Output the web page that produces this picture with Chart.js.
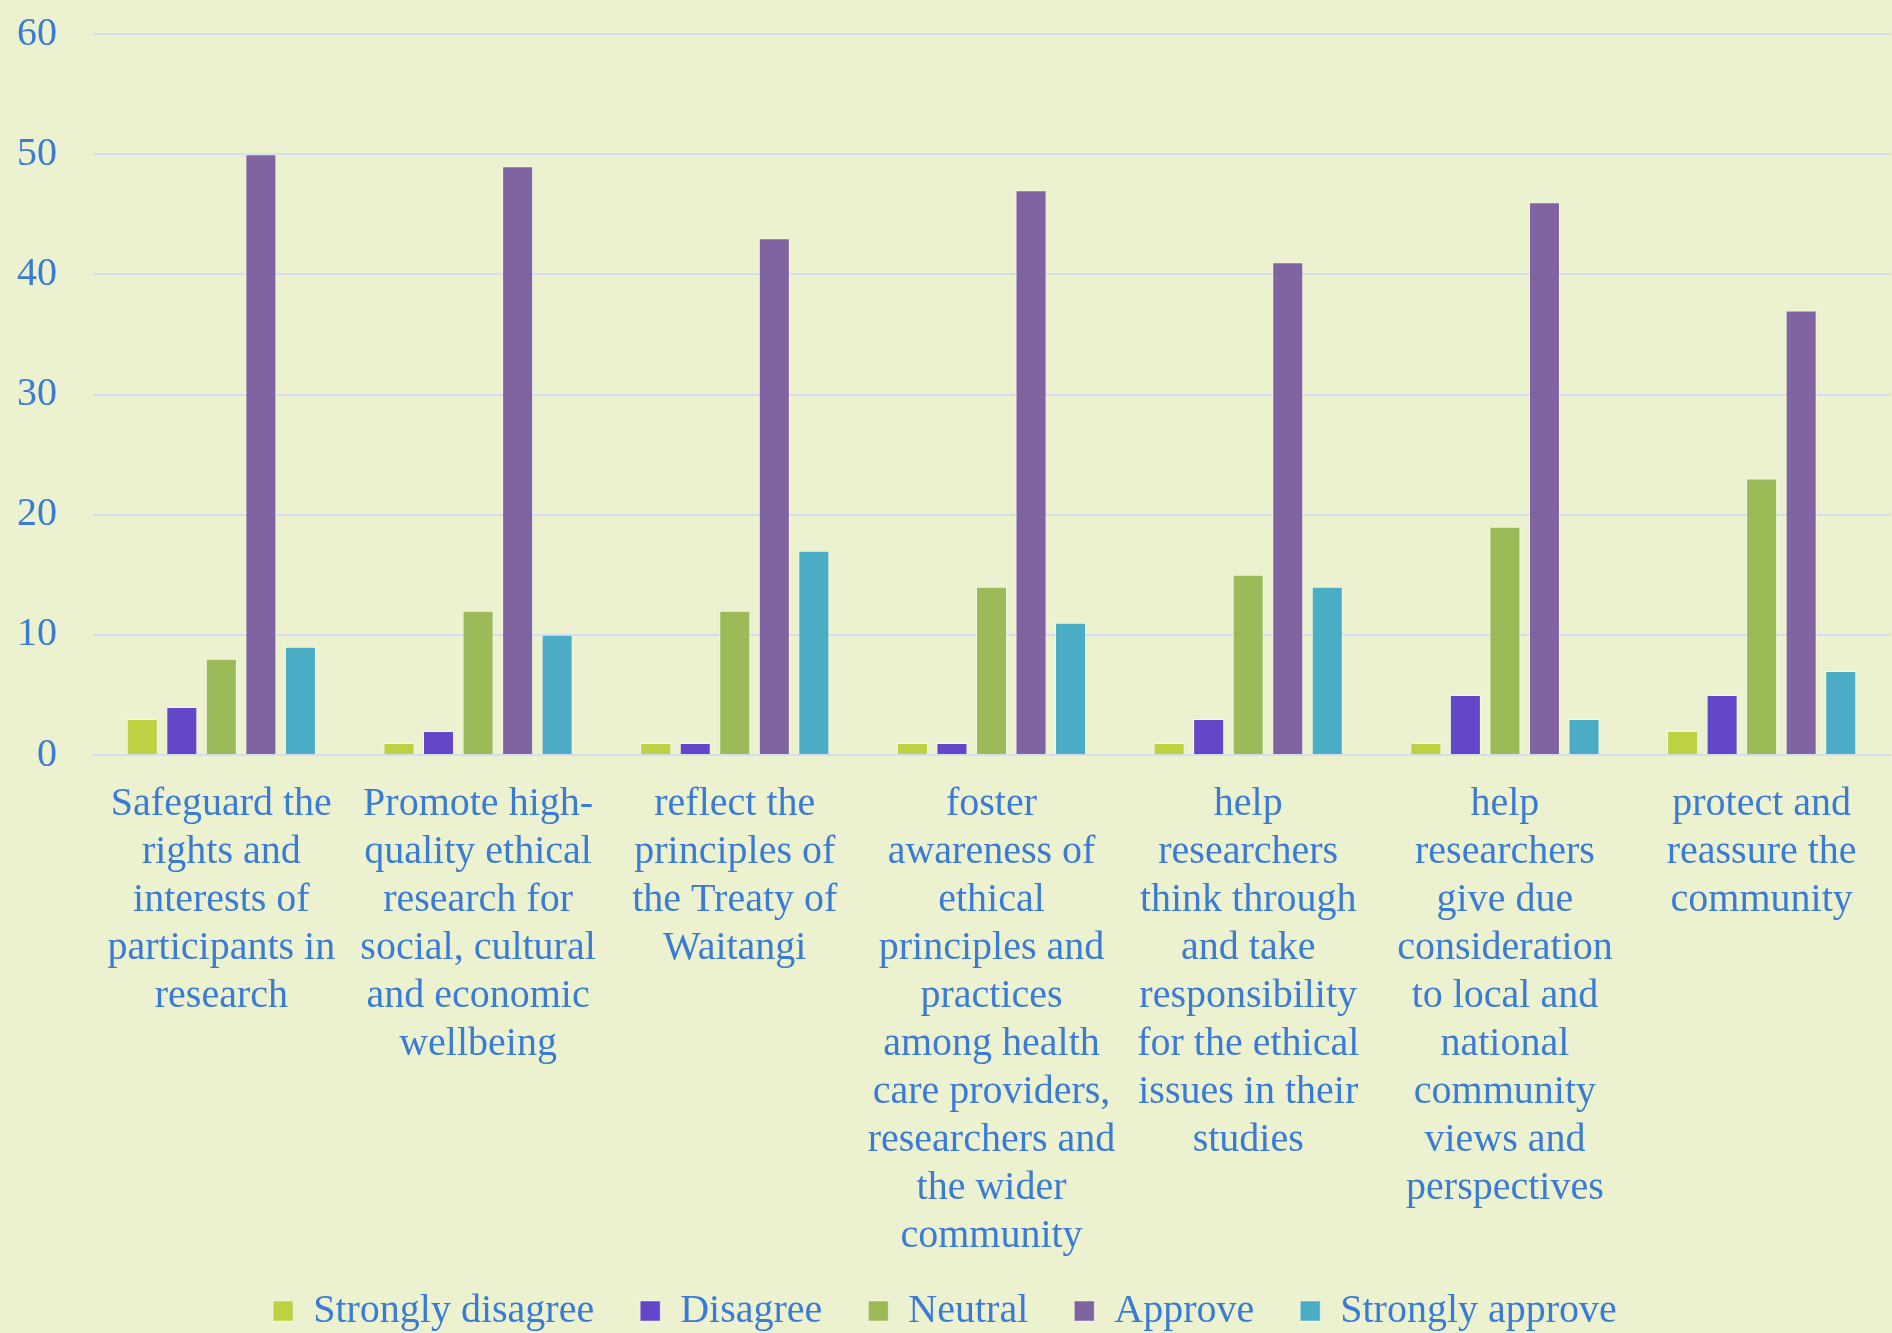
<!DOCTYPE html>
<html>
<head>
<meta charset="utf-8">
<script src="https://cdn.jsdelivr.net/npm/chart.js@4"></script>
<style>
  html, body { margin: 0; padding: 0; background: #ECF2D0; }
  #wrap { width: 1892px; height: 1333px; }
</style>
</head>
<body>
<div id="wrap"><canvas id="chart"></canvas></div>
<script>
// categories (already broken into lines as in the picture)
const categories = [
  ['Safeguard the', 'rights and', 'interests of', 'participants in', 'research'],
  ['Promote high-', 'quality ethical', 'research for', 'social, cultural', 'and economic', 'wellbeing'],
  ['reflect the', 'principles of', 'the Treaty of', 'Waitangi'],
  ['foster', 'awareness of', 'ethical', 'principles and', 'practices', 'among health', 'care providers,', 'researchers and', 'the wider', 'community'],
  ['help', 'researchers', 'think through', 'and take', 'responsibility', 'for the ethical', 'issues in their', 'studies'],
  ['help', 'researchers', 'give due', 'consideration', 'to local and', 'national', 'community', 'views and', 'perspectives'],
  ['protect and', 'reassure the', 'community']
];

const stronglyDisagree = [3, 1, 1, 1, 1, 1, 2];
const disagree         = [4, 2, 1, 1, 3, 5, 5];
const neutral          = [8, 12, 12, 14, 15, 19, 23];
const approve          = [50, 49, 43, 47, 41, 46, 37];
const stronglyApprove  = [9, 10, 17, 11, 14, 3, 7];

const textColor = '#3A7BD5';
const gridColor = '#D3DFEE';
const font = 'Liberation Serif';

function ds(label, data, color) {
  return {
    label: label,
    data: data,
    backgroundColor: color,
    borderColor: 'rgba(255,255,255,0.45)',
    borderWidth: 1,
    categoryPercentage: 0.77,
    barPercentage: 0.785
  };
}

const data = {
  labels: categories,
  datasets: [
    ds('Strongly disagree', stronglyDisagree, '#BDD142'),
    ds('Disagree', disagree, '#6446C8'),
    ds('Neutral', neutral, '#9BBB59'),
    ds('Approve', approve, '#8064A2'),
    ds('Strongly approve', stronglyApprove, '#4BACC6')
  ]
};

// let the long x labels run down next to the legend instead of being clipped
const labelRoom = {
  id: 'labelRoom',
  afterLayout: function (chart) { chart.scales.x.bottom += 30; }
};

const config = {
  type: 'bar',
  data: data,
  plugins: [labelRoom],
  options: {
    responsive: true,
    maintainAspectRatio: false,
    animation: false,
    layout: { padding: { top: 34, right: 2, bottom: -8, left: 0 } },
    scales: {
      x: {
        grid: { display: false, drawTicks: false },
        border: { display: true, color: gridColor, width: 2 },
        ticks: {
          color: textColor,
          font: { family: font, size: 40, lineHeight: 1.2 },
          maxRotation: 0,
          autoSkip: false,
          padding: 25
        },
        afterFit: function (scale) { scale.height = 490; }
      },
      y: {
        min: 0,
        max: 60,
        ticks: {
          stepSize: 10,
          color: textColor,
          font: { family: font, size: 40 },
          padding: 36
        },
        grid: { color: gridColor, lineWidth: 2, drawTicks: false },
        border: { display: false },
        afterFit: function (scale) {
          scale.width = 93;
          scale.paddingTop = 0;
          scale.paddingBottom = 0;
        }
      }
    },
    plugins: {
      legend: {
        position: 'bottom',
        labels: {
          color: textColor,
          font: { family: font, size: 40 },
          boxWidth: 20,
          boxHeight: 20,
          padding: 46
        }
      },
      tooltip: { enabled: false }
    }
  }
};

const myChart = new Chart(document.getElementById('chart'), config);
</script>
</body>
</html>
